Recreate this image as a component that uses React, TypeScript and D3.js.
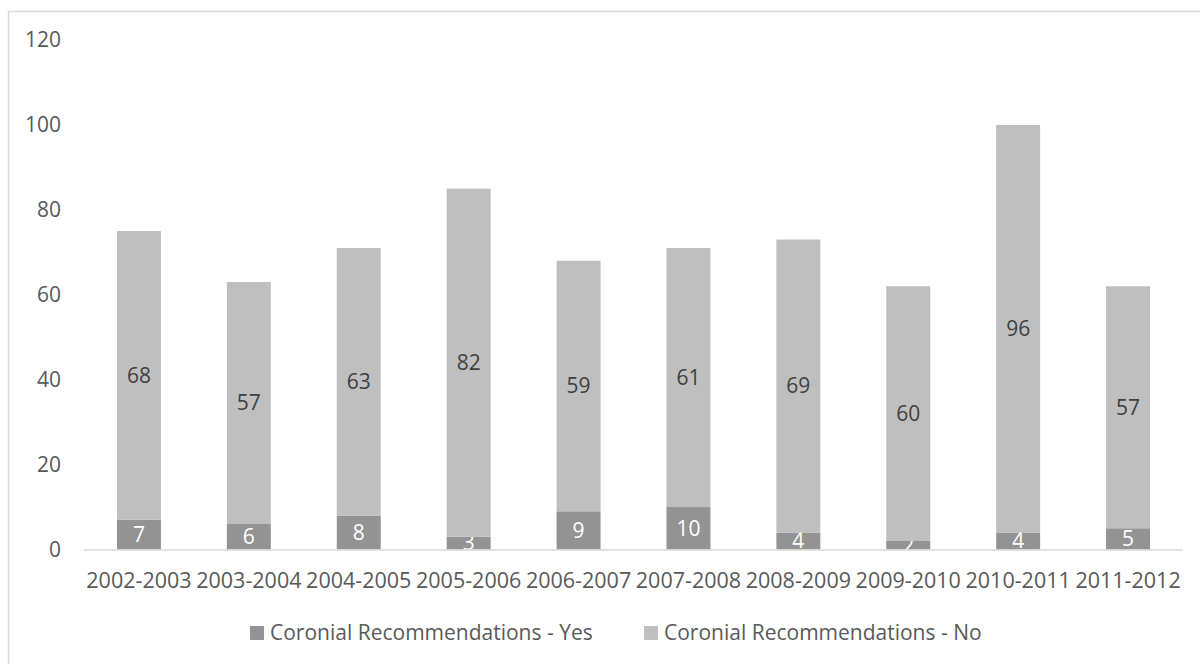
import React from "react";
import * as d3 from "d3";

const categories = [
  "2002-2003", "2003-2004", "2004-2005", "2005-2006", "2006-2007",
  "2007-2008", "2008-2009", "2009-2010", "2010-2011", "2011-2012",
];
const yesValues = [7, 6, 8, 3, 9, 10, 4, 2, 4, 5];
const noValues = [68, 57, 63, 82, 59, 61, 69, 60, 96, 57];
const yTicks = [0, 20, 40, 60, 80, 100, 120];
const seriesNames = ["Coronial Recommendations - Yes", "Coronial Recommendations - No"];

const W = 1200;
const H = 664;
const FONT = "'Open Sans', sans-serif";
const TEXT = "#595959";
const DARK = "#939393";
const LIGHT = "#bfbfbf";

export default function App() {
  const x = d3.scaleBand<string>().domain(categories).range([84, 1183]).paddingInner(0.6).paddingOuter(0.3);
  const y = d3.scaleLinear().domain([0, 120]).range([549.5, 40]);

  const rows = categories.map((c, i) => ({ cat: c, yes: yesValues[i], no: noValues[i] }));
  const stack = d3.stack<any>().keys(["yes", "no"])(rows);
  const fills = [DARK, LIGHT];
  const labelColors = ["#ffffff", "#404040"];

  return (
    <svg width={W} height={H} style={{ position: "absolute", left: 0, top: 0, background: "#fff" }} fontFamily={FONT}>
      <rect x={8.5} y={11.5} width={W} height={H} fill="#fff" stroke="#d9d9d9" strokeWidth={1.5} />
      {yTicks.map((t) => (
        <text key={t} x={61} y={y(t)} dy="0.35em" textAnchor="end" fontSize={21} fill={TEXT}>
          {t}
        </text>
      ))}
      {stack.map((layer, li) => (
        <g key={layer.key}>
          {layer.map((d, i) => {
            const bx = x(categories[i])!;
            const top = y(d[1]);
            const bot = y(d[0]);
            const v = d[1] - d[0];
            return (
              <g key={i}>
                <rect x={bx} y={top} width={x.bandwidth()} height={bot - top} fill={fills[li]} />
                <text
                  x={bx + x.bandwidth() / 2}
                  y={y((d[0] + d[1]) / 2)}
                  dy="0.35em"
                  textAnchor="middle"
                  fontSize={21}
                  fill={labelColors[li]}
                >
                  {v}
                </text>
              </g>
            );
          })}
        </g>
      ))}
      <line x1={84} x2={1183} y1={y(0) + 0.5} y2={y(0) + 0.5} stroke="#d9d9d9" strokeWidth={1.5} />
      {categories.map((c) => (
        <text key={c} x={x(c)! + x.bandwidth() / 2} y={580} dy="0.35em" textAnchor="middle" fontSize={21.5} fill={TEXT}>
          {c}
        </text>
      ))}
      {seriesNames.map((s, i) => {
        const lx = i === 0 ? 250 : 644;
        return (
          <g key={s}>
            <rect x={lx} y={626} width={14} height={14} fill={fills[i]} />
            <text x={lx + 20} y={633} dy="0.35em" fontSize={21} fill={TEXT}>
              {s}
            </text>
          </g>
        );
      })}
    </svg>
  );
}
